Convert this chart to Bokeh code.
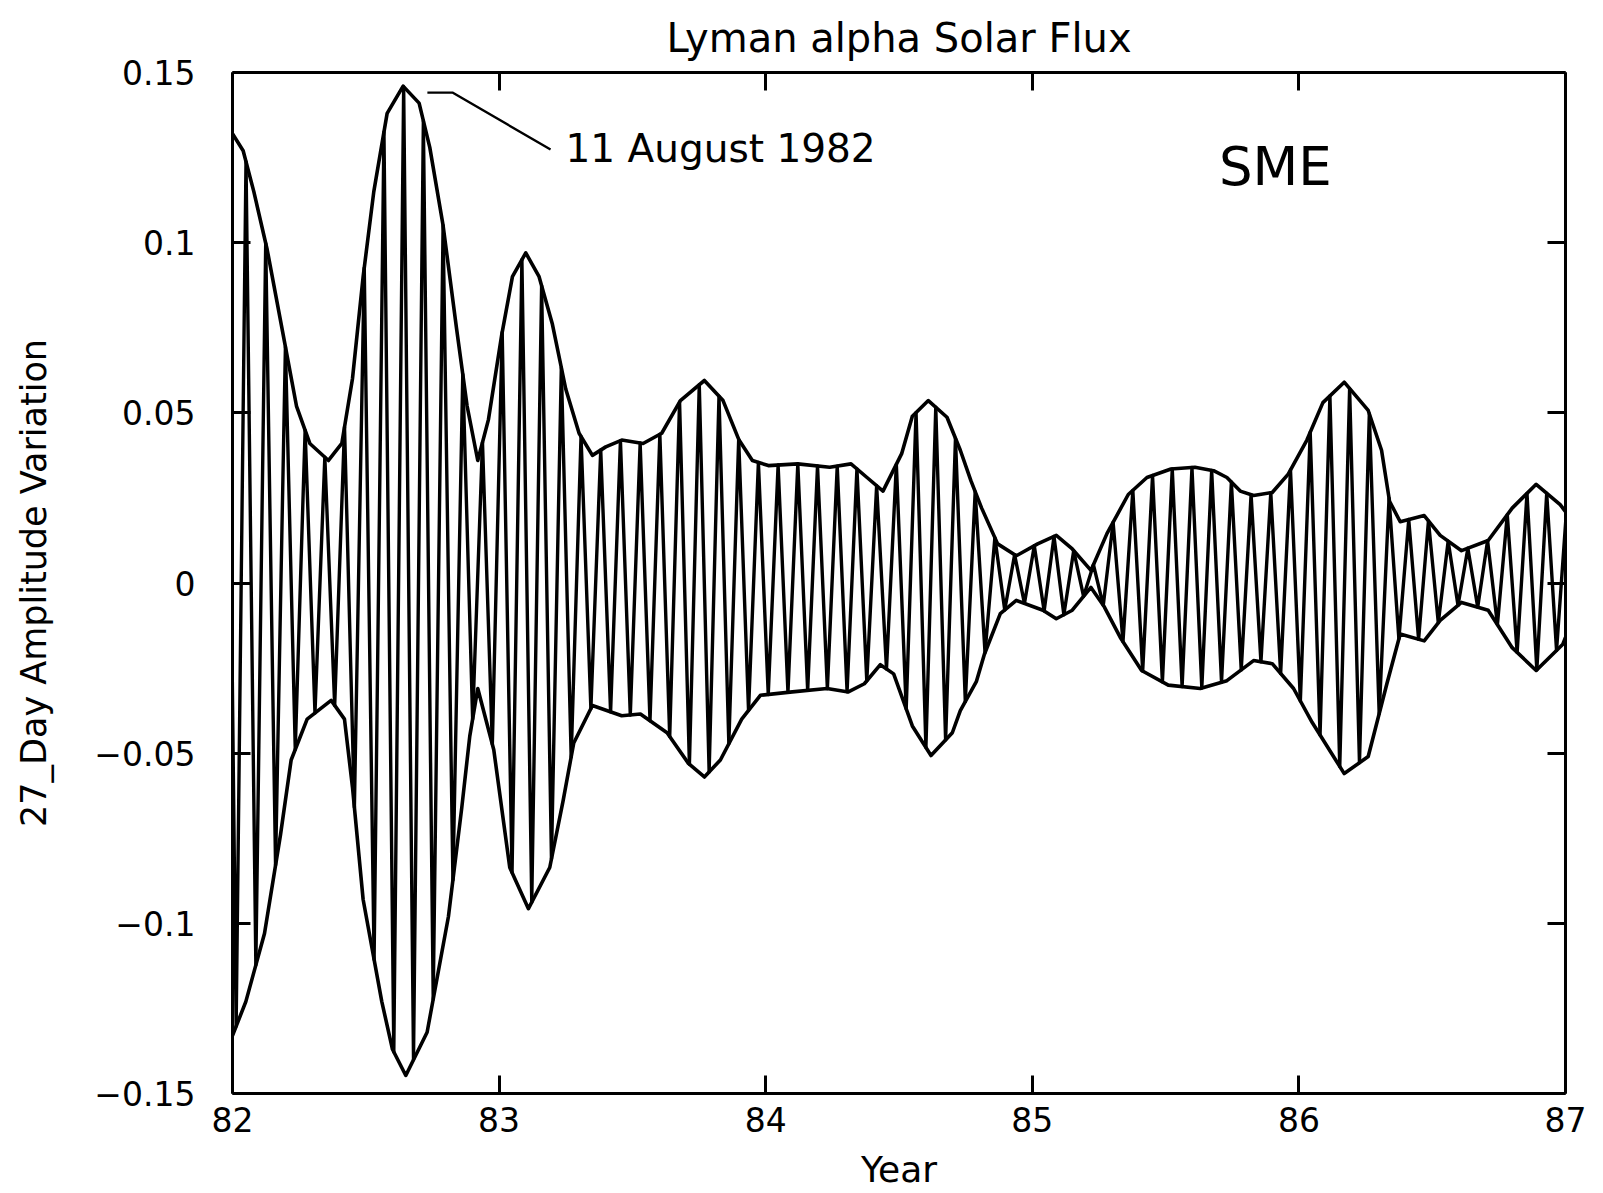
import numpy as np
from bokeh.plotting import figure
from bokeh.models import LinearAxis, FixedTicker, Label, Title, Range1d
from bokeh.embed import file_html
from bokeh.resources import INLINE

# ---- data ----
upper_year = [82.00, 82.04, 82.08, 82.13, 82.19, 82.24, 82.29, 82.36, 82.41, 82.45,
              82.49, 82.53, 82.58, 82.64, 82.70, 82.74, 82.79, 82.84, 82.88, 82.92,
              82.96, 83.01, 83.05, 83.10, 83.15, 83.20, 83.25, 83.30, 83.35, 83.40,
              83.46, 83.54, 83.61, 83.68, 83.77, 83.84, 83.90, 83.95, 84.01, 84.12,
              84.24, 84.32, 84.38, 84.44, 84.51, 84.55, 84.61, 84.68, 84.73, 84.77,
              84.81, 84.87, 84.94, 85.02, 85.09, 85.15, 85.22, 85.28, 85.36, 85.43,
              85.52, 85.61, 85.68, 85.73, 85.78, 85.83, 85.90, 85.96, 86.03, 86.09,
              86.17, 86.26, 86.31, 86.34, 86.38, 86.47, 86.53, 86.61, 86.71, 86.80,
              86.89, 86.98, 87.00]
upper_value = [0.132, 0.127, 0.115, 0.098, 0.073, 0.052, 0.041, 0.036, 0.041, 0.060,
               0.090, 0.115, 0.138, 0.146, 0.141, 0.128, 0.105, 0.075, 0.052, 0.036,
               0.048, 0.073, 0.090, 0.097, 0.090, 0.076, 0.057, 0.044, 0.0375, 0.040,
               0.042, 0.041, 0.044, 0.0536, 0.0595, 0.0536, 0.042, 0.036, 0.0345, 0.035,
               0.034, 0.035, 0.031, 0.027, 0.038, 0.049, 0.0536, 0.0487, 0.039, 0.030,
               0.022, 0.0115, 0.008, 0.0115, 0.014, 0.010, 0.0037, 0.0145, 0.026, 0.031,
               0.0335, 0.034, 0.033, 0.031, 0.027, 0.0257, 0.0266, 0.032, 0.042, 0.053,
               0.059, 0.0507, 0.039, 0.024, 0.0180, 0.0198, 0.014, 0.0095, 0.0125, 0.022,
               0.029, 0.023, 0.021]

lower_year = [82.00, 82.05, 82.12, 82.18, 82.22, 82.28, 82.37, 82.42, 82.45, 82.49,
              82.56, 82.60, 82.65, 82.73, 82.81, 82.86, 82.89, 82.92, 82.98, 83.04,
              83.11, 83.19, 83.24, 83.28, 83.35, 83.46, 83.53, 83.63, 83.71, 83.77,
              83.83, 83.91, 83.98, 84.10, 84.23, 84.31, 84.37, 84.43, 84.48, 84.55,
              84.62, 84.70, 84.73, 84.79, 84.82, 84.88, 84.94, 85.04, 85.09, 85.15,
              85.22, 85.27, 85.33, 85.41, 85.51, 85.63, 85.73, 85.83, 85.90, 85.98,
              86.05, 86.17, 86.26, 86.33, 86.38, 86.47, 86.53, 86.61, 86.71, 86.80,
              86.89, 86.99, 87.00]
lower_value = [-0.133, -0.123, -0.103, -0.074, -0.052, -0.040, -0.0345, -0.040, -0.060, -0.093,
               -0.123, -0.137, -0.1447, -0.132, -0.098, -0.066, -0.045, -0.031, -0.049, -0.0836,
               -0.0957, -0.0836, -0.064, -0.047, -0.036, -0.039, -0.0385, -0.044, -0.053, -0.057,
               -0.052, -0.040, -0.033, -0.032, -0.031, -0.032, -0.0296, -0.024, -0.0267, -0.042,
               -0.0507, -0.044, -0.0375, -0.029, -0.021, -0.009, -0.0051, -0.008, -0.0105, -0.008,
               -0.0013, -0.007, -0.016, -0.0257, -0.030, -0.031, -0.0287, -0.0228, -0.0237, -0.031,
               -0.041, -0.056, -0.051, -0.0296, -0.015, -0.017, -0.011, -0.0057, -0.008, -0.019,
               -0.0257, -0.018, -0.016]

period_days = 27.0          # carrier period (27-day rotation)
first_peak_year = 82.642    # time of the largest maximum

x_ticks = [82, 83, 84, 85, 86, 87]
y_ticks = [-0.15, -0.1, -0.05, 0, 0.05, 0.1, 0.15]
y_tick_labels = ["\u22120.15", "\u22120.1", "\u22120.05", "0", "0.05", "0.1", "0.15"]

title_text = "Lyman alpha Solar Flux"
x_label = "Year"
y_label = "27_Day Amplitude Variation"
note_text = "11 August 1982"
note_point = (82.731, 0.1441)
mission_text = "SME"

FONT = "DejaVu Sans"

# ---- carrier: vertices alternate between the upper and lower envelopes ----
half = period_days / 365.25 / 2.0
ks = np.arange(-20, 160)
tk = first_peak_year + ks * half
keep = (tk >= 81.95) & (tk <= 87.05)
tk, ks = tk[keep], ks[keep]
vals = np.where(ks % 2 == 0,
                np.interp(tk, upper_year, upper_value),
                np.interp(tk, lower_year, lower_value))

p = figure(width=1603, height=1193, output_backend="svg", toolbar_location=None,
           x_range=Range1d(82, 87), y_range=Range1d(-0.15, 0.15),
           min_border_left=232, min_border_right=38, min_border_top=72,
           min_border_bottom=100, x_axis_location=None, y_axis_location=None,
           title=None)
p.outline_line_color = None
p.background_fill_color = "white"
p.border_fill_color = "white"
p.xgrid.visible = False
p.ygrid.visible = False

p.line(tk, vals, line_color="black", line_width=3.4, line_join="round")
p.line(upper_year, upper_value, line_color="black", line_width=3.6, line_join="round")
p.line(lower_year, lower_value, line_color="black", line_width=3.6, line_join="round")

# annotation leader
p.line([note_point[0], note_point[0] + 0.094, note_point[0] + 0.462],
       [note_point[1], note_point[1], note_point[1] - 0.0167],
       line_color="black", line_width=2.4)
p.add_layout(Label(x=note_point[0] + 0.518, y=note_point[1] - 0.0163, text=note_text,
                   text_font=FONT, text_font_size="39px", text_baseline="middle",
                   text_align="left", text_color="black"))
p.add_layout(Label(x=85.70, y=0.1224, text=mission_text, text_font=FONT,
                   text_font_size="53px", text_baseline="middle", text_align="left",
                   text_color="black"))


def style_axis(ax, labels=True):
    ax.axis_line_width = 3
    ax.axis_line_color = "black"
    ax.major_tick_line_width = 3
    ax.major_tick_line_color = "black"
    ax.major_tick_in = 18
    ax.major_tick_out = 0
    ax.minor_tick_line_color = None
    ax.major_label_text_font = FONT
    ax.major_label_text_font_size = "33px"
    ax.major_label_text_color = "black"
    ax.axis_label_text_font = FONT
    ax.axis_label_text_font_size = "36px"
    ax.axis_label_text_font_style = "normal"
    ax.axis_label_text_color = "black"
    if not labels:
        ax.major_label_text_font_size = "0px"
        ax.major_label_text_color = None


xb = LinearAxis(ticker=FixedTicker(ticks=x_ticks), axis_label=x_label)
style_axis(xb)
xb.major_label_standoff = 13
xb.axis_label_standoff = 14
p.add_layout(xb, "below")

xt = LinearAxis(ticker=FixedTicker(ticks=x_ticks))
style_axis(xt, labels=False)
xt.major_label_standoff = 0
p.add_layout(xt, "above")

yl = LinearAxis(ticker=FixedTicker(ticks=y_ticks), axis_label=y_label)
style_axis(yl)
yl.major_label_overrides = {t: s for t, s in zip(y_ticks, y_tick_labels)}
yl.axis_label_text_font_size = "35px"
yl.major_label_standoff = 37
yl.axis_label_standoff = 37
p.add_layout(yl, "left")

yr = LinearAxis(ticker=FixedTicker(ticks=y_ticks))
style_axis(yr, labels=False)
yr.major_label_standoff = 0
p.add_layout(yr, "right")

p.add_layout(Title(text=title_text, align="center", text_font=FONT,
                   text_font_size="40px", text_font_style="normal",
                   text_color="black", standoff=23), "above")

open("out.html", "w").write(file_html(p, INLINE))
